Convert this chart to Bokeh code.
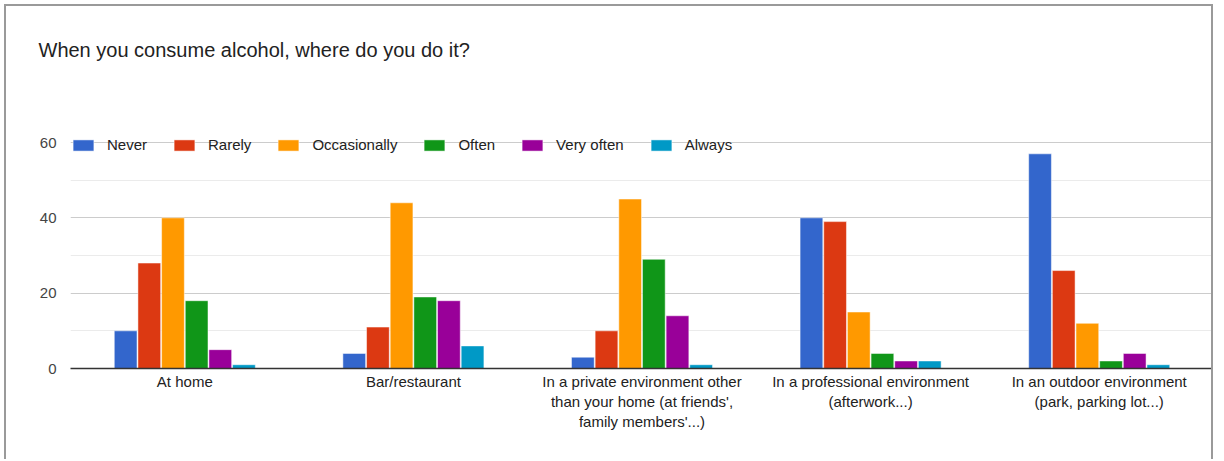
from bokeh.plotting import figure
from bokeh.models import ColumnDataSource, FixedTicker, Legend, LegendItem, Title
from bokeh.transform import dodge
from bokeh.embed import file_html
from bokeh.resources import INLINE

categories = [
    "At home",
    "Bar/restaurant",
    "In a private environment other\nthan your home (at friends',\nfamily members'...)",
    "In a professional environment\n(afterwork...)",
    "In an outdoor environment\n(park, parking lot...)",
]
series_names = ["Never", "Rarely", "Occasionally", "Often", "Very often", "Always"]
never = [10, 4, 3, 40, 57]
rarely = [28, 11, 10, 39, 26]
occasionally = [40, 44, 45, 15, 12]
often = [18, 19, 29, 4, 2]
very_often = [5, 18, 14, 2, 4]
always = [1, 6, 1, 2, 1]
colors = ["#3366cc", "#dc3912", "#ff9900", "#109618", "#990099", "#0099c6"]
y_ticks = [0, 20, 40, 60]
y_minor = [10, 30, 50]

source = ColumnDataSource(data=dict(
    cat=categories, Never=never, Rarely=rarely, Occasionally=occasionally,
    Often=often, VeryOften=very_often, Always=always,
))
cols = ["Never", "Rarely", "Occasionally", "Often", "VeryOften", "Always"]

p = figure(
    x_range=categories, y_range=(0, 61.6),
    width=1209, height=455, output_backend="svg", toolbar_location=None,
    min_border_left=64, min_border_right=2, min_border_top=130, min_border_bottom=93,
    title="When you consume alcohol, where do you do it?",
)
p.outline_line_color = None
p.styles = {"border-top": "2px solid #9a9a9a", "border-left": "2px solid #9a9a9a",
            "border-right": "2px solid #9a9a9a", "margin-left": "4px", "margin-top": "4px"}

p.title.text_font = "Liberation Sans"
p.title.text_font_size = "20px"
p.title.text_font_style = "normal"
p.title.text_color = "#222222"
p.title.align = "left"
p.title.offset = -32
p.title.standoff = 0

# empty spacer between title and plot area
p.add_layout(Title(text=" ", text_font_size="1px", standoff=73), "above")

bw = 0.1035
renderers = []
for i, (c, name) in enumerate(zip(cols, series_names)):
    r = p.vbar(x=dodge("cat", (i - 2.5) * bw, range=p.x_range), top=c, width=bw - 0.004,
               source=source, fill_color=colors[i], line_color="white", line_alpha=0.5,
               line_width=1)
    renderers.append((name, r))

legend = Legend(items=[LegendItem(label=n, renderers=[r]) for n, r in renderers],
                orientation="horizontal", location="top_left",
                background_fill_alpha=0, border_line_color=None,
                glyph_width=26, glyph_height=14, label_height=14, label_standoff=11,
                spacing=24, padding=0, margin=0,
                label_text_font="Liberation Sans", label_text_font_size="15px",
                label_text_color="#222222")
p.add_layout(legend, "center")

p.yaxis.ticker = FixedTicker(ticks=y_ticks, minor_ticks=y_minor)
p.ygrid.grid_line_color = "#cccccc"
p.ygrid.minor_grid_line_color = "#ebebeb"
p.xgrid.grid_line_color = None
p.yaxis.axis_line_color = None
p.yaxis.major_tick_line_color = None
p.yaxis.minor_tick_line_color = None
p.yaxis.major_label_standoff = 8
p.yaxis.major_label_text_font = "Liberation Sans"
p.yaxis.major_label_text_font_size = "15px"
p.yaxis.major_label_text_color = "#444444"

p.xaxis.axis_line_color = "#333333"
p.xaxis.axis_line_width = 1.5
p.xaxis.major_tick_line_color = None
p.xaxis.minor_tick_line_color = None
p.xaxis.major_label_standoff = -2
p.xaxis.major_label_text_font = "Liberation Sans"
p.xaxis.major_label_text_font_size = "15px"
p.xaxis.major_label_text_color = "#222222"
p.xaxis.major_label_text_line_height = 1.2
p.x_range.range_padding = 0

open("out.html", "w").write(file_html(p, INLINE))
